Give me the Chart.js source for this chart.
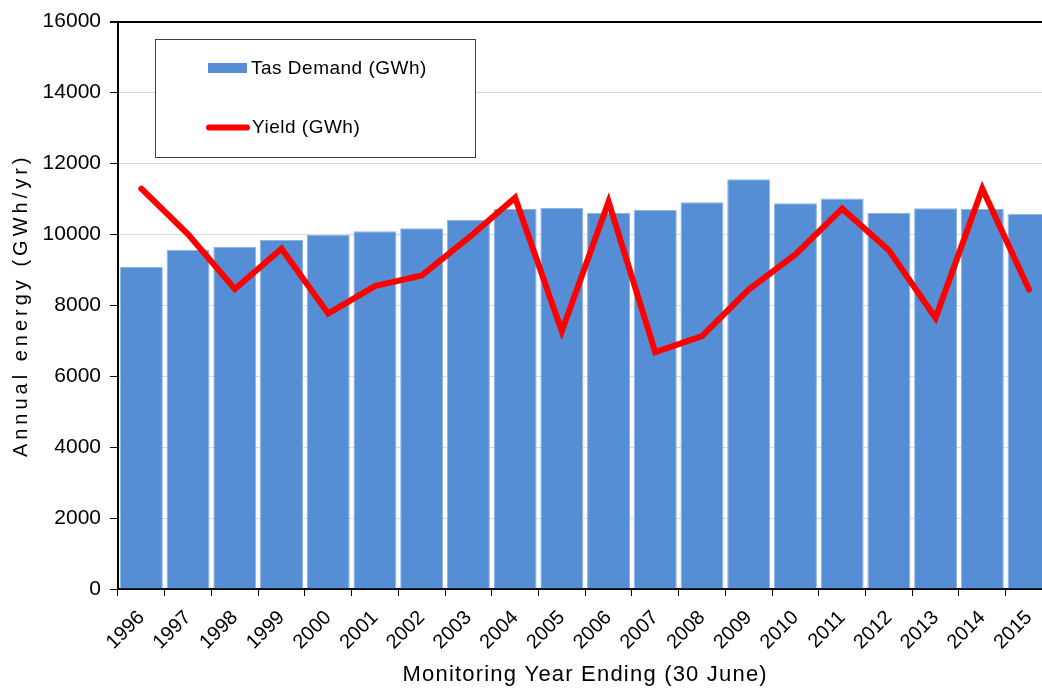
<!DOCTYPE html>
<html>
<head>
<meta charset="utf-8">
<script src="https://cdn.jsdelivr.net/npm/chart.js@4.4.1/dist/chart.umd.min.js"></script>
<style>
  html, body { margin: 0; padding: 0; background: #fff; overflow: hidden; }
  #wrap { width: 1056px; height: 688px; position: relative; }
</style>
</head>
<body>
<div id="wrap"><canvas id="energyChart"></canvas></div>
<script>
const years = ['1996', '1997', '1998', '1999', '2000', '2001', '2002', '2003', '2004', '2005',
               '2006', '2007', '2008', '2009', '2010', '2011', '2012', '2013', '2014', '2015'];
const demandGWh = [9080, 9565, 9650, 9840, 9980, 10085, 10170, 10410, 10715, 10745,
                   10600, 10685, 10905, 11555, 10875, 11015, 10600, 10735, 10715, 10580];
const yieldGWh = [11290, 10000, 8460, 9595, 7770, 8540, 8840, 9900, 11035, 7270,
                  10920, 6680, 7130, 8445, 9435, 10725, 9550, 7645, 11290, 8445];

const FONT = "'Liberation Sans', Arial, sans-serif";

// legend in a framed box inside the plot, like the Excel original
const legendBox = {
  id: 'legendBox',
  afterDraw(chart) {
    const ctx = chart.ctx;
    const bar = chart.data.datasets[1];
    const line = chart.data.datasets[0];
    ctx.save();
    ctx.fillStyle = '#fff';
    ctx.fillRect(155.5, 39.5, 320, 118);
    ctx.strokeStyle = '#404040';
    ctx.lineWidth = 1;
    ctx.strokeRect(155.5, 39.5, 320, 118);

    ctx.fillStyle = bar.backgroundColor;
    ctx.fillRect(208, 63, 39, 10);

    ctx.strokeStyle = line.borderColor;
    ctx.lineWidth = 6;
    ctx.lineCap = 'round';
    ctx.beginPath();
    ctx.moveTo(209, 127.5);
    ctx.lineTo(247, 127.5);
    ctx.stroke();

    ctx.fillStyle = '#000';
    ctx.font = `19px ${FONT}`;
    ctx.letterSpacing = '0.5px';
    ctx.textBaseline = 'middle';
    ctx.fillText(bar.label, 251, 68.5);
    ctx.fillText(line.label, 252, 128);
    ctx.restore();
  }
};

// axis titles, drawn with the wide letter spacing of the original
const axisTitles = {
  id: 'axisTitles',
  afterDraw(chart) {
    const { ctx, chartArea } = chart;
    ctx.save();
    ctx.fillStyle = '#000';
    ctx.textAlign = 'center';
    ctx.textBaseline = 'middle';

    ctx.font = `22px ${FONT}`;
    ctx.letterSpacing = '1.2px';
    ctx.fillText('Monitoring Year Ending (30 June)', (chartArea.left + chartArea.right) / 2, 675);

    ctx.font = `20px ${FONT}`;
    ctx.letterSpacing = '4px';
    ctx.translate(21, (chartArea.top + chartArea.bottom) / 2);
    ctx.rotate(-Math.PI / 2);
    ctx.fillText('Annual energy (GWh/yr)', 0, 0);
    ctx.restore();
  }
};

new Chart(document.getElementById('energyChart'), {
  type: 'bar',
  data: {
    labels: years,
    datasets: [
      {
        type: 'line',
        label: 'Yield (GWh)',
        data: yieldGWh,
        borderColor: '#ff0000',
        borderWidth: 6,
        pointRadius: 0,
        tension: 0,
        borderCapStyle: 'round',
        borderJoinStyle: 'miter',
        order: 0
      },
      {
        type: 'bar',
        label: 'Tas Demand (GWh)',
        data: demandGWh,
        backgroundColor: '#558ed5',
        borderColor: '#8eb4e3',
        borderWidth: 1,
        barPercentage: 0.92,
        categoryPercentage: 1,
        order: 1
      }
    ]
  },
  options: {
    responsive: true,
    maintainAspectRatio: false,
    animation: false,
    layout: { padding: { top: 20, right: 0, bottom: 0, left: 0 } },
    plugins: { legend: { display: false }, tooltip: { enabled: false } },
    scales: {
      x: {
        offset: true,
        grid: { offset: true, drawOnChartArea: false, tickLength: 7, tickColor: '#000', tickWidth: 1 },
        border: { color: '#000', width: 2 },
        ticks: { color: '#000', font: { family: FONT, size: 20 }, maxRotation: 45, minRotation: 45, padding: 10 },
        afterFit(scale) { scale.height = 99; }
      },
      y: {
        min: 0,
        max: 16000,
        ticks: {
          stepSize: 2000,
          color: '#000',
          font: { family: FONT, size: 21 },
          padding: 9,
          callback: v => String(v)
        },
        grid: {
          color: c => c.tick && c.tick.value === 16000 ? '#000' : '#d9d9d9',
          lineWidth: c => c.tick && c.tick.value === 16000 ? 2 : 1,
          tickColor: '#000',
          tickLength: 8
        },
        border: { color: '#000', width: 2 },
        afterFit(scale) { scale.width = 118; }
      }
    }
  },
  plugins: [legendBox, axisTitles]
});
</script>
</body>
</html>
